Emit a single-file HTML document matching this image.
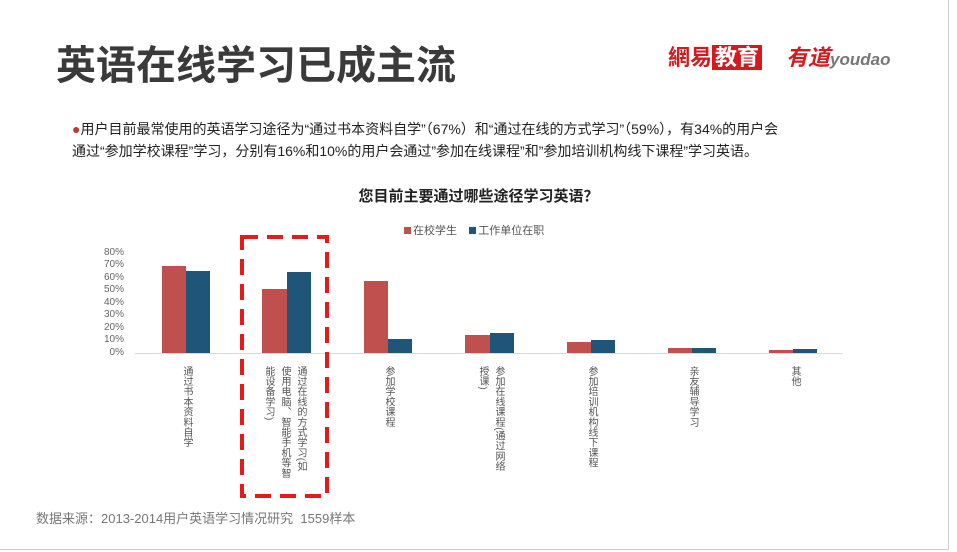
<!DOCTYPE html>
<html><head><meta charset="utf-8"><style>
body{margin:0;width:957px;height:552px;background:#fff;position:relative;overflow:hidden;font-family:"Liberation Sans","Noto Sans CJK SC",sans-serif;}
.a{position:absolute;white-space:nowrap;}
.v{position:absolute;writing-mode:vertical-rl;font-size:10px;color:#555;line-height:16px;letter-spacing:0.2px;white-space:nowrap;}
.bar{position:absolute;}
.r{background:#c0504d}.b{background:#1f5579}
.yl{position:absolute;left:98px;width:26px;text-align:right;font-size:10px;color:#666;}
</style></head><body>
<div style="position:absolute;left:948px;top:0;width:1px;height:549px;background:#ccc"></div>
<div style="position:absolute;left:0;top:549px;width:949px;height:1px;background:#ccc"></div>
<div class="a" style="left:56px;top:42px;font-size:40px;font-weight:bold;color:#3a3a3a;line-height:48px">英语在线学习已成主流</div>
<div class="a" style="left:668px;top:40px;font-size:22px;color:#d7191e;font-weight:bold">網易<span style="background:#d7191e;color:#fff;padding:0 3px">教育</span></div>
<div class="a" style="left:786px;top:40px;font-size:22px;color:#d7191e;font-weight:bold;font-style:italic">有道<span style="color:#777;font-size:17px;font-family:'Liberation Sans',sans-serif">youdao</span></div>
<div class="a" style="left:72px;top:118px;font-size:14px;color:#222;line-height:22px"><span style="color:#c0392b">●</span>用户目前最常使用的英语学习途径为“通过书本资料自学”（67%）和“通过在线的方式学习”（59%），有34%的用户会<br>通过“参加学校课程”学习，分别有16%和10%的用户会通过”参加在线课程”和”参加培训机构线下课程”学习英语。</div>
<div class="a" style="left:0;width:957px;text-align:center;top:185px;font-size:15px;font-weight:bold;color:#222">您目前主要通过哪些途径学习英语？</div>
<div class="a" style="left:404px;top:222px;font-size:11px;color:#555"><span style="display:inline-block;width:7px;height:7px;background:#c0504d;margin-right:2px"></span>在校学生&nbsp;&nbsp;&nbsp;&nbsp;<span style="display:inline-block;width:7px;height:7px;background:#1f5579;margin-right:2px"></span>工作单位在职</div>
<div class="yl" style="top:247px">80%</div><div class="yl" style="top:259px">70%</div><div class="yl" style="top:272px">60%</div><div class="yl" style="top:284px">50%</div><div class="yl" style="top:297px">40%</div><div class="yl" style="top:309px">30%</div><div class="yl" style="top:322px">20%</div><div class="yl" style="top:334px">10%</div><div class="yl" style="top:347px">0%</div>
<div style="position:absolute;left:135px;top:353px;width:708px;height:1px;background:#d9d9d9"></div>
<div class="bar r" style="left:162px;top:266px;width:24px;height:87px"></div><div class="bar b" style="left:186px;top:271px;width:24px;height:82px"></div>
<div class="bar r" style="left:262px;top:289px;width:25px;height:64px"></div><div class="bar b" style="left:287px;top:272px;width:24px;height:81px"></div>
<div class="bar r" style="left:364px;top:281px;width:24px;height:72px"></div><div class="bar b" style="left:388px;top:339px;width:24px;height:14px"></div>
<div class="bar r" style="left:465px;top:335px;width:25px;height:18px"></div><div class="bar b" style="left:490px;top:333px;width:24px;height:20px"></div>
<div class="bar r" style="left:567px;top:342px;width:24px;height:11px"></div><div class="bar b" style="left:591px;top:340px;width:24px;height:13px"></div>
<div class="bar r" style="left:668px;top:348px;width:24px;height:5px"></div><div class="bar b" style="left:692px;top:348px;width:24px;height:5px"></div>
<div class="bar r" style="left:769px;top:350px;width:24px;height:3px"></div><div class="bar b" style="left:793px;top:349px;width:24px;height:4px"></div>
<div class="v" style="left:178px;top:366px">通过书本资料自学</div>
<div class="v" style="left:260px;top:366px">通过在线的方式学习(如<br>使用电脑、智能手机等智<br>能设备学习)</div>
<div class="v" style="left:474px;top:366px">参加在线课程(通过网络<br>授课)</div>
<div class="v" style="left:380px;top:366px">参加学校课程</div>
<div class="v" style="left:583px;top:366px">参加培训机构线下课程</div>
<div class="v" style="left:684px;top:366px">亲友辅导学习</div>
<div class="v" style="left:786px;top:366px">其他</div>
<svg style="position:absolute;left:0;top:0" width="957" height="552"><rect x="242" y="237" width="85" height="259" fill="none" stroke="#e31b1b" stroke-width="4" stroke-dasharray="16 9"/></svg>
<div class="a" style="left:36px;top:508px;font-size:13px;color:#777">数据来源：2013-2014用户英语学习情况研究&nbsp;&nbsp;1559样本</div>
</body></html>
